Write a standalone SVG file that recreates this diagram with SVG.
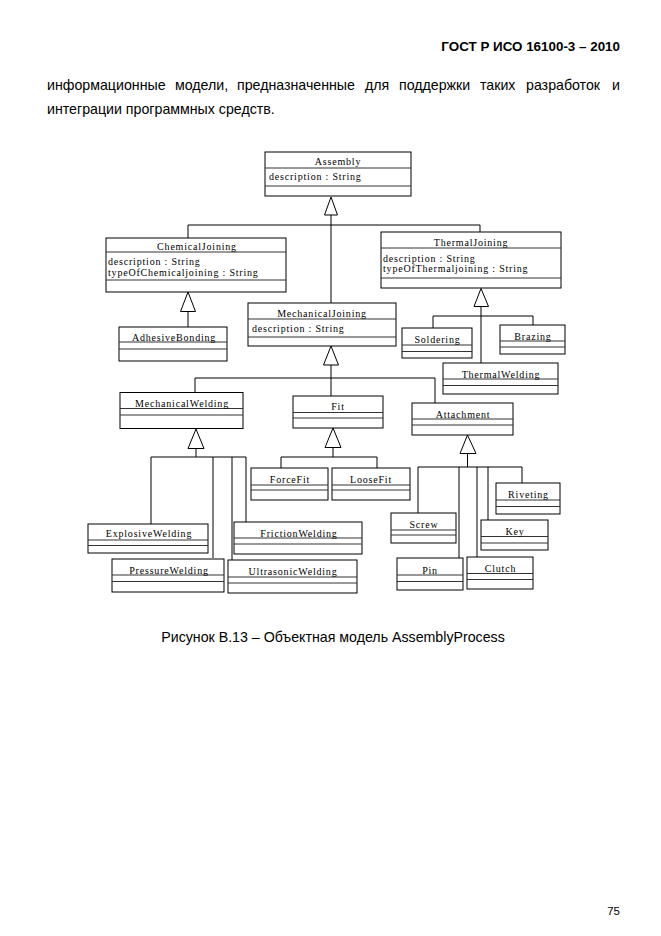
<svg xmlns="http://www.w3.org/2000/svg" width="661" height="936" viewBox="0 0 661 936">
<style>
.bg{fill:#fff}
.box{fill:#fff;stroke:#000;stroke-width:1}
.sep{stroke:#333;stroke-width:1}
.cn{font-family:"Liberation Serif","Times New Roman",serif;font-size:10px;letter-spacing:0.8px;text-anchor:middle;fill:#000}
.at{font-family:"Liberation Serif","Times New Roman",serif;font-size:10px;letter-spacing:0.8px;fill:#000}
.ln{stroke:#000;stroke-width:1;fill:none}
.tri{fill:#fff;stroke:#000;stroke-width:1}
.page{font-family:"Liberation Sans",Arial,sans-serif;fill:#000}
.body{font-size:14.2px}
</style>
<rect class="bg" x="0" y="0" width="661" height="936"/>
<g id="page-text">
<text class="page" x="620" y="51" font-size="13.4" font-weight="bold" text-anchor="end">ГОСТ Р ИСО 16100-3 – 2010</text>
<text class="page body" y="90"><tspan x="47">информационные</tspan><tspan x="175">модели,</tspan><tspan x="237">предназначенные</tspan><tspan x="365">для</tspan><tspan x="399">поддержки</tspan><tspan x="480">таких</tspan><tspan x="526">разработок</tspan><tspan x="612">и</tspan></text>
<text class="page body" x="47" y="114">интеграции программных средств.</text>
<text class="page body" x="333" y="642" text-anchor="middle">Рисунок В.13 – Объектная модель AssemblyProcess</text>
<text class="page" x="620" y="915" font-size="11.5" text-anchor="end" fill="#444">75</text>
</g>
<g id="connectors">
<polyline class="ln" points="331,214 331,303"/>
<polyline class="ln" points="188,238 188,225 480,225 480,232"/>
<polygon class="tri" points="331,197 324.5,215 337.5,215"/>
<line class="ln" x1="188" y1="311" x2="188" y2="327"/>
<polygon class="tri" points="188,292 180.5,311.5 195.5,311.5"/>
<line class="ln" x1="481" y1="306" x2="481" y2="363"/>
<polyline class="ln" points="433,328 433,316 533,316 533,325"/>
<polygon class="tri" points="481,288.5 474,306.5 488.5,306.5"/>
<line class="ln" x1="331" y1="364" x2="331" y2="396"/>
<polyline class="ln" points="195,393 195,378 435,378 435,403"/>
<polygon class="tri" points="331,346 323.5,365 338.5,365"/>
<line class="ln" x1="196" y1="448" x2="196" y2="457"/>
<polyline class="ln" points="151,524 151,457 246,457 246,522"/>
<line class="ln" x1="213" y1="457" x2="213" y2="558"/>
<line class="ln" x1="232" y1="457" x2="232" y2="560"/>
<polygon class="tri" points="196,429 188,448.5 204,448.5"/>
<line class="ln" x1="333" y1="447" x2="333" y2="457"/>
<polyline class="ln" points="281,468 281,457 377,457 377,468"/>
<polygon class="tri" points="333,428 325,447.5 341,447.5"/>
<line class="ln" x1="467.5" y1="453" x2="467.5" y2="467"/>
<polyline class="ln" points="418,513 418,467 522,467 522,483"/>
<line class="ln" x1="459" y1="467" x2="459" y2="558"/>
<line class="ln" x1="477" y1="467" x2="477" y2="557"/>
<line class="ln" x1="488" y1="467" x2="488" y2="520"/>
<polygon class="tri" points="467.5,435 460,453.5 476,453.5"/>
</g>
<g id="Assembly">
<rect class="box" x="265" y="152" width="146" height="44"/>
<line class="sep" x1="265" y1="168" x2="411" y2="168"/>
<line class="sep" x1="265" y1="186" x2="411" y2="186"/>
<text class="cn" x="338" y="165">Assembly</text>
<text class="at" x="269" y="180">description : String</text>
</g>
<g id="ChemicalJoining">
<rect class="box" x="106" y="238" width="180" height="54"/>
<line class="sep" x1="106" y1="252" x2="286" y2="252"/>
<line class="sep" x1="106" y1="280" x2="286" y2="280"/>
<text class="cn" x="197" y="250">ChemicalJoining</text>
<text class="at" x="108" y="264.5">description : String</text>
<text class="at" x="108" y="275.5">typeOfChemicaljoining : String</text>
</g>
<g id="ThermalJoining">
<rect class="box" x="381" y="232" width="180" height="56"/>
<line class="sep" x1="381" y1="248" x2="561" y2="248"/>
<line class="sep" x1="381" y1="278" x2="561" y2="278"/>
<text class="cn" x="471" y="245.5">ThermalJoining</text>
<text class="at" x="383" y="261.5">description : String</text>
<text class="at" x="383" y="272">typeOfThermaljoining : String</text>
</g>
<g id="MechanicalJoining">
<rect class="box" x="248" y="303" width="148" height="43"/>
<line class="sep" x1="248" y1="319" x2="396" y2="319"/>
<line class="sep" x1="248" y1="337" x2="396" y2="337"/>
<text class="cn" x="322" y="317">MechanicalJoining</text>
<text class="at" x="252" y="331.5">description : String</text>
</g>
<g id="AdhesiveBonding">
<rect class="box" x="119" y="327" width="108" height="34"/>
<line class="sep" x1="119" y1="342" x2="227" y2="342"/>
<line class="sep" x1="119" y1="349" x2="227" y2="349"/>
<text class="cn" x="174" y="341">AdhesiveBonding</text>
</g>
<g id="Soldering">
<rect class="box" x="402" y="328" width="70" height="30"/>
<line class="sep" x1="402" y1="345" x2="472" y2="345"/>
<line class="sep" x1="402" y1="351.5" x2="472" y2="351.5"/>
<text class="cn" x="437.5" y="343">Soldering</text>
</g>
<g id="Brazing">
<rect class="box" x="500" y="325" width="65" height="29"/>
<line class="sep" x1="500" y1="341" x2="565" y2="341"/>
<line class="sep" x1="500" y1="347" x2="565" y2="347"/>
<text class="cn" x="533" y="340">Brazing</text>
</g>
<g id="ThermalWelding">
<rect class="box" x="443" y="363" width="115" height="31"/>
<line class="sep" x1="443" y1="379" x2="558" y2="379"/>
<line class="sep" x1="443" y1="385.5" x2="558" y2="385.5"/>
<text class="cn" x="501" y="378">ThermalWelding</text>
</g>
<g id="MechanicalWelding">
<rect class="box" x="120" y="392.5" width="123" height="36"/>
<line class="sep" x1="120" y1="408.5" x2="243" y2="408.5"/>
<line class="sep" x1="120" y1="415" x2="243" y2="415"/>
<text class="cn" x="182" y="407">MechanicalWelding</text>
</g>
<g id="Fit">
<rect class="box" x="293" y="396" width="90" height="32"/>
<line class="sep" x1="293" y1="412.5" x2="383" y2="412.5"/>
<line class="sep" x1="293" y1="418" x2="383" y2="418"/>
<text class="cn" x="338" y="409.5">Fit</text>
</g>
<g id="Attachment">
<rect class="box" x="412" y="403" width="101" height="32"/>
<line class="sep" x1="412" y1="419" x2="513" y2="419"/>
<line class="sep" x1="412" y1="425" x2="513" y2="425"/>
<text class="cn" x="463" y="418">Attachment</text>
</g>
<g id="ForceFit">
<rect class="box" x="251" y="468" width="77" height="32"/>
<line class="sep" x1="251" y1="485" x2="328" y2="485"/>
<line class="sep" x1="251" y1="490" x2="328" y2="490"/>
<text class="cn" x="290" y="483">ForceFit</text>
</g>
<g id="LooseFit">
<rect class="box" x="332" y="468" width="78" height="32"/>
<line class="sep" x1="332" y1="485" x2="410" y2="485"/>
<line class="sep" x1="332" y1="490" x2="410" y2="490"/>
<text class="cn" x="371" y="483">LooseFit</text>
</g>
<g id="ExplosiveWelding">
<rect class="box" x="88" y="524" width="120" height="29"/>
<line class="sep" x1="88" y1="540" x2="208" y2="540"/>
<line class="sep" x1="88" y1="545.5" x2="208" y2="545.5"/>
<text class="cn" x="149" y="537">ExplosiveWelding</text>
</g>
<g id="FrictionWelding">
<rect class="box" x="234" y="522" width="128" height="32"/>
<line class="sep" x1="234" y1="538" x2="362" y2="538"/>
<line class="sep" x1="234" y1="544" x2="362" y2="544"/>
<text class="cn" x="299" y="536.5">FrictionWelding</text>
</g>
<g id="PressureWelding">
<rect class="box" x="112" y="559" width="112" height="33"/>
<line class="sep" x1="112" y1="575" x2="224" y2="575"/>
<line class="sep" x1="112" y1="581.5" x2="224" y2="581.5"/>
<text class="cn" x="169" y="574">PressureWelding</text>
</g>
<g id="UltrasonicWelding">
<rect class="box" x="228" y="560" width="129" height="33"/>
<line class="sep" x1="228" y1="577" x2="357" y2="577"/>
<line class="sep" x1="228" y1="583" x2="357" y2="583"/>
<text class="cn" x="293" y="575">UltrasonicWelding</text>
</g>
<g id="Screw">
<rect class="box" x="391" y="513" width="65" height="30"/>
<line class="sep" x1="391" y1="530" x2="456" y2="530"/>
<line class="sep" x1="391" y1="535" x2="456" y2="535"/>
<text class="cn" x="424" y="528">Screw</text>
</g>
<g id="Riveting">
<rect class="box" x="496" y="483" width="64" height="31"/>
<line class="sep" x1="496" y1="500" x2="560" y2="500"/>
<line class="sep" x1="496" y1="506.5" x2="560" y2="506.5"/>
<text class="cn" x="528.5" y="498">Riveting</text>
</g>
<g id="Key">
<rect class="box" x="481" y="520" width="67" height="30"/>
<line class="sep" x1="481" y1="536.5" x2="548" y2="536.5"/>
<line class="sep" x1="481" y1="543" x2="548" y2="543"/>
<text class="cn" x="515" y="535">Key</text>
</g>
<g id="Pin">
<rect class="box" x="397" y="558" width="66" height="32"/>
<line class="sep" x1="397" y1="575" x2="463" y2="575"/>
<line class="sep" x1="397" y1="581.5" x2="463" y2="581.5"/>
<text class="cn" x="430" y="574">Pin</text>
</g>
<g id="Clutch">
<rect class="box" x="467" y="557" width="66" height="32"/>
<line class="sep" x1="467" y1="573.5" x2="533" y2="573.5"/>
<line class="sep" x1="467" y1="579.5" x2="533" y2="579.5"/>
<text class="cn" x="500.5" y="571.5">Clutch</text>
</g>
</svg>
